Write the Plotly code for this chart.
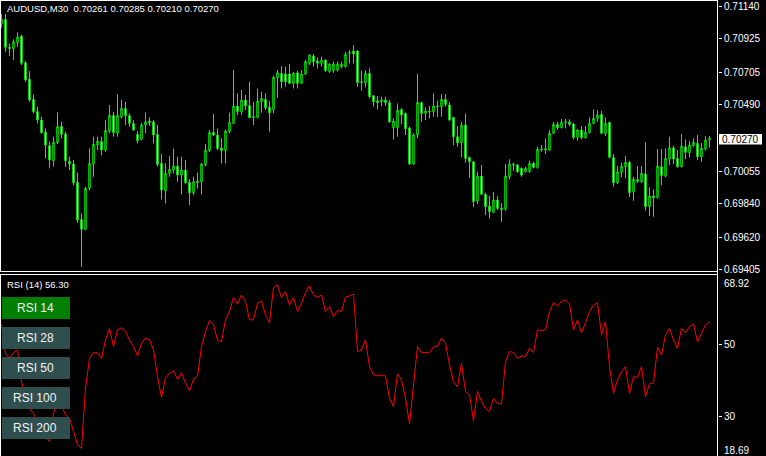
import plotly.graph_objects as go

# ---------------- data ----------------
open_ = [0.71021,0.71052,0.70859,0.70861,0.70899,0.70942,0.70767,0.70658,0.70526,0.70447,
         0.70390,0.70312,0.70222,0.70123,0.70241,0.70349,0.70298,0.70119,0.70101,0.69981,
         0.69737,0.69672,0.69941,0.70101,0.70226,0.70250,0.70193,0.70318,0.70421,0.70303,
         0.70412,0.70467,0.70419,0.70368,0.70296,0.70263,0.70358,0.70384,0.70379,0.70296,
         0.70106,0.69926,0.70040,0.70062,0.70088,0.70029,0.70062,0.69981,0.69913,0.69978,
         0.69985,0.70097,0.70189,0.70309,0.70292,0.70206,0.70189,0.70314,0.70368,0.70482,
         0.70445,0.70522,0.70485,0.70406,0.70408,0.70511,0.70526,0.70474,0.70460,0.70669,
         0.70697,0.70693,0.70693,0.70631,0.70701,0.70631,0.70693,0.70763,0.70811,0.70778,
         0.70763,0.70785,0.70708,0.70715,0.70719,0.70741,0.70741,0.70829,0.70844,0.70844,
         0.70636,0.70636,0.70697,0.70550,0.70517,0.70511,0.70522,0.70506,0.70340,0.70340,
         0.70460,0.70434,0.70338,0.70101,0.70292,0.70506,0.70434,0.70450,0.70445,0.70478,
         0.70478,0.70526,0.70489,0.70408,0.70281,0.70241,0.70358,0.70145,0.70117,0.69858,
         0.70022,0.69902,0.69825,0.69784,0.69865,0.69810,0.69803,0.70018,0.70093,0.70095,
         0.70073,0.70051,0.70051,0.70106,0.70079,0.70193,0.70193,0.70193,0.70303,0.70362,
         0.70340,0.70373,0.70379,0.70364,0.70276,0.70325,0.70274,0.70307,0.70368,0.70401,
         0.70428,0.70303,0.70375,0.70145,0.69978,0.70046,0.70084,0.70112,0.69919,0.69985,
         0.69985,0.70036,0.69821,0.69891,0.69880,0.70084,0.70022,0.70134,0.70208,0.70138,
         0.70084,0.70215,0.70176,0.70222,0.70237,0.70149,0.70200,0.70261]
high = [0.71087,0.71087,0.70894,0.70921,0.70967,0.70951,0.70778,0.70712,0.70559,0.70478,
        0.70412,0.70336,0.70248,0.70281,0.70441,0.70379,0.70314,0.70149,0.70128,0.70044,
        0.69777,0.69952,0.70204,0.70281,0.70281,0.70281,0.70390,0.70489,0.70445,0.70559,
        0.70522,0.70511,0.70434,0.70390,0.70318,0.70373,0.70441,0.70408,0.70390,0.70358,
        0.70167,0.70106,0.70154,0.70204,0.70149,0.70149,0.70128,0.70003,0.70018,0.70046,
        0.70110,0.70233,0.70325,0.70430,0.70336,0.70270,0.70329,0.70439,0.70719,0.70566,
        0.70588,0.70555,0.70642,0.70511,0.70598,0.70577,0.70566,0.70515,0.70680,0.70719,
        0.70745,0.70741,0.70758,0.70708,0.70715,0.70719,0.70785,0.70820,0.70824,0.70802,
        0.70807,0.70789,0.70763,0.70774,0.70774,0.70774,0.70839,0.70850,0.70883,0.70850,
        0.70715,0.70719,0.70730,0.70555,0.70548,0.70544,0.70544,0.70522,0.70401,0.70500,
        0.70467,0.70439,0.70347,0.70303,0.70693,0.70511,0.70474,0.70482,0.70566,0.70517,
        0.70561,0.70561,0.70511,0.70412,0.70351,0.70379,0.70434,0.70149,0.70119,0.70051,
        0.70095,0.69913,0.69891,0.69919,0.69891,0.69843,0.70101,0.70132,0.70110,0.70101,
        0.70079,0.70084,0.70123,0.70117,0.70215,0.70226,0.70270,0.70325,0.70379,0.70379,
        0.70397,0.70397,0.70395,0.70373,0.70329,0.70351,0.70351,0.70408,0.70460,0.70456,
        0.70450,0.70408,0.70379,0.70167,0.70090,0.70110,0.70154,0.70121,0.70018,0.70088,
        0.70088,0.70244,0.69948,0.69935,0.70200,0.70200,0.70204,0.70281,0.70222,0.70193,
        0.70298,0.70263,0.70252,0.70270,0.70292,0.70241,0.70285,0.70285]
low = [0.70999,0.70839,0.70811,0.70785,0.70872,0.70752,0.70642,0.70511,0.70434,0.70368,
       0.70303,0.70138,0.70073,0.70084,0.70233,0.70270,0.70084,0.70062,0.69963,0.69716,
       0.69426,0.69667,0.69930,0.70018,0.70193,0.70160,0.70182,0.70303,0.70281,0.70281,
       0.70401,0.70358,0.70347,0.70320,0.70237,0.70259,0.70303,0.70351,0.70237,0.70084,
       0.69869,0.69843,0.70018,0.70040,0.69985,0.69902,0.69974,0.69832,0.69897,0.69941,
       0.69902,0.70088,0.70182,0.70285,0.70193,0.70106,0.70106,0.70303,0.70364,0.70423,
       0.70423,0.70456,0.70401,0.70358,0.70401,0.70439,0.70456,0.70314,0.70434,0.70537,
       0.70598,0.70609,0.70627,0.70598,0.70598,0.70627,0.70686,0.70752,0.70741,0.70730,
       0.70741,0.70708,0.70701,0.70701,0.70708,0.70730,0.70736,0.70763,0.70763,0.70609,
       0.70583,0.70605,0.70533,0.70478,0.70460,0.70482,0.70482,0.70373,0.70263,0.70281,
       0.70364,0.70292,0.70095,0.70095,0.70270,0.70379,0.70390,0.70401,0.70412,0.70412,
       0.70412,0.70478,0.70386,0.70226,0.70215,0.70145,0.70110,0.70011,0.69821,0.69838,
       0.69897,0.69766,0.69744,0.69777,0.69799,0.69722,0.69794,0.70000,0.70057,0.70044,
       0.70018,0.70044,0.70044,0.70073,0.70071,0.70182,0.70167,0.70189,0.70298,0.70325,
       0.70336,0.70336,0.70351,0.70263,0.70255,0.70263,0.70270,0.70303,0.70364,0.70379,
       0.70298,0.70285,0.70138,0.69952,0.69970,0.70014,0.70007,0.69886,0.69860,0.69978,
       0.69978,0.69795,0.69760,0.69755,0.69876,0.69963,0.70014,0.70095,0.70101,0.70077,
       0.70079,0.70134,0.70145,0.70215,0.70128,0.70117,0.70189,0.70210]
close = [0.71052,0.70868,0.70868,0.70905,0.70936,0.70763,0.70653,0.70522,0.70445,0.70390,
         0.70307,0.70226,0.70128,0.70244,0.70347,0.70296,0.70123,0.70101,0.69978,0.69733,
         0.69672,0.69941,0.70106,0.70230,0.70250,0.70193,0.70322,0.70421,0.70307,0.70419,
         0.70467,0.70419,0.70368,0.70325,0.70255,0.70358,0.70379,0.70373,0.70292,0.70099,
         0.69930,0.70040,0.70066,0.70088,0.70029,0.70062,0.69978,0.69913,0.69985,0.69989,
         0.70101,0.70193,0.70309,0.70292,0.70204,0.70189,0.70318,0.70375,0.70482,0.70445,
         0.70522,0.70482,0.70406,0.70412,0.70515,0.70533,0.70471,0.70439,0.70671,0.70701,
         0.70642,0.70642,0.70631,0.70697,0.70631,0.70693,0.70774,0.70818,0.70774,0.70763,
         0.70785,0.70715,0.70758,0.70758,0.70758,0.70758,0.70822,0.70833,0.70824,0.70636,
         0.70642,0.70697,0.70544,0.70511,0.70504,0.70522,0.70504,0.70379,0.70384,0.70456,
         0.70423,0.70333,0.70101,0.70292,0.70506,0.70434,0.70450,0.70445,0.70482,0.70482,
         0.70526,0.70493,0.70390,0.70281,0.70241,0.70358,0.70138,0.70117,0.69854,0.70022,
         0.69902,0.69821,0.69788,0.69865,0.69810,0.69803,0.70022,0.70101,0.70101,0.70051,
         0.70029,0.70073,0.70106,0.70079,0.70198,0.70198,0.70202,0.70303,0.70362,0.70340,
         0.70375,0.70379,0.70362,0.70276,0.70325,0.70274,0.70309,0.70368,0.70401,0.70423,
         0.70303,0.70368,0.70145,0.69978,0.70051,0.70088,0.70112,0.69913,0.70000,0.70000,
         0.70040,0.69821,0.69891,0.69880,0.70088,0.70025,0.70138,0.70208,0.70134,0.70084,
         0.70219,0.70178,0.70226,0.70244,0.70149,0.70204,0.70259,0.70270]
rsi = [55.5,47.5,46.1,47.7,48.4,39.6,35.5,32.2,30.8,28.1,
       26.2,24.4,23.0,30.8,34.5,33.1,30.4,29.4,25.8,22.2,
       21.0,37.8,46.1,47.7,47.7,46.1,51.2,54.4,49.4,54.0,
       54.6,53.5,51.2,49.4,46.8,50.3,51.7,51.2,48.4,41.0,
       35.3,40.6,41.9,42.6,40.3,42.1,39.2,37.1,40.3,41.2,
       49.4,53.5,56.6,55.4,51.2,50.7,56.8,59.1,63.0,61.2,
       63.7,61.9,56.8,56.8,61.4,62.0,58.1,56.0,65.8,66.5,
       63.0,64.6,60.9,63.0,59.1,61.4,64.4,66.2,63.7,63.0,
       63.7,59.1,60.5,57.7,59.4,59.1,63.1,63.4,64.0,48.0,
       48.4,51.2,43.8,41.5,41.2,41.5,41.2,35.0,32.7,41.8,
       40.1,35.0,27.9,37.8,49.4,47.7,47.7,47.7,49.2,49.5,
       51.7,50.3,44.3,39.6,38.2,44.7,36.9,35.9,28.8,36.9,
       34.1,32.2,31.3,35.0,33.6,33.4,45.2,48.0,47.7,46.1,
       46.8,46.6,48.9,47.7,54.0,53.8,54.0,59.1,61.6,60.6,
       61.9,62.3,61.2,54.0,56.8,53.2,56.0,59.1,60.9,61.6,
       52.6,56.3,43.8,36.4,40.1,42.4,43.8,36.4,41.0,40.8,
       43.8,35.5,39.0,39.2,49.2,47.0,52.6,54.4,51.2,48.9,
       54.4,53.2,54.9,55.6,50.7,53.1,55.4,56.3]

price_ticks = [0.71140, 0.70925, 0.70705, 0.70490, 0.70055, 0.69840, 0.69620, 0.69405]
price_tick_text = ["0.71140", "0.70925", "0.70705", "0.70490", "0.70055", "0.69840", "0.69620", "0.69405"]
rsi_ticks = [50, 30]
rsi_tick_text = ["50", "30"]
rsi_max_label, rsi_min_label = "68.92", "18.69"
title_text = "AUDUSD,M30\u00a0\u00a00.70261 0.70285 0.70210 0.70270"
rsi_title = "RSI (14) 56.30"
current_price = "0.70270"
buttons = ["RSI 14", "RSI 28", "RSI 50", "RSI 100", "RSI 200"]

# ---------------- layout geometry ----------------
W, H = 766, 456
PW = 718          # plot width in px (right margin holds the scale)
FONT = "Liberation Sans, Arial, sans-serif"

def fx(p):   # pixel x -> paper
    return p / PW

def fy(p):   # pixel y -> paper
    return 1 - p / H

idx = list(range(len(close)))
x0 = -1.5 / 4
x_range = [x0, x0 + PW / 4]

fig = go.Figure()
fig.add_trace(go.Candlestick(
    x=idx, open=open_, high=high, low=low, close=close,
    increasing=dict(line=dict(color="#00FF00", width=1), fillcolor="#000000"),
    decreasing=dict(line=dict(color="#00FF00", width=1), fillcolor="#FFFFFF"),
    whiskerwidth=0, xaxis="x", yaxis="y", hoverinfo="skip", showlegend=False))
fig.add_trace(go.Scatter(
    x=idx, y=rsi, mode="lines", line=dict(color="#FF0000", width=1),
    xaxis="x", yaxis="y2", hoverinfo="skip", showlegend=False))

main_top = 0.711794
px_per = 6.572e-5
main_bottom_px = 272
rsi_top_px = 275

shapes = []
line_style = dict(color="#FFFFFF", width=1)
# window frames
shapes.append(dict(type="line", xref="paper", yref="paper", x0=0, x1=fx(718), y0=fy(0.5), y1=fy(0.5), line=line_style))
shapes.append(dict(type="line", xref="paper", yref="paper", x0=0, x1=fx(718), y0=fy(271.5), y1=fy(271.5), line=line_style))
shapes.append(dict(type="line", xref="paper", yref="paper", x0=0, x1=fx(718), y0=fy(274.5), y1=fy(274.5), line=line_style))
shapes.append(dict(type="line", xref="paper", yref="paper", x0=fx(0.5), x1=fx(0.5), y0=fy(0), y1=fy(271.5), line=line_style))
shapes.append(dict(type="line", xref="paper", yref="paper", x0=fx(0.5), x1=fx(0.5), y0=fy(274.5), y1=fy(456), line=line_style))
shapes.append(dict(type="line", xref="paper", yref="paper", x0=fx(717.5), x1=fx(717.5), y0=fy(0), y1=fy(456), line=line_style))
# current price box
shapes.append(dict(type="rect", xref="paper", yref="paper", x0=fx(719), x1=fx(762), y0=fy(134), y1=fy(144.5),
                   fillcolor="#FFFFFF", line=dict(width=0), layer="above"))

annotations = [
    dict(text=title_text, xref="paper", yref="paper", x=fx(5), y=fy(8.5), xanchor="left", yanchor="middle",
         showarrow=False, font=dict(family=FONT, size=9.5, color="#FFFFFF")),
    dict(text=rsi_title, xref="paper", yref="paper", x=fx(5), y=fy(284.5), xanchor="left", yanchor="middle",
         showarrow=False, font=dict(family=FONT, size=9.5, color="#FFFFFF")),
    dict(text=current_price, xref="paper", yref="paper", x=fx(740.5), y=fy(139.3), xanchor="center", yanchor="middle",
         showarrow=False, font=dict(family=FONT, size=10, color="#000000")),
    dict(text=rsi_max_label, xref="paper", yref="paper", x=fx(722), y=fy(283.5), xanchor="left", yanchor="middle",
         showarrow=False, font=dict(family=FONT, size=10, color="#FFFFFF")),
    dict(text=rsi_min_label, xref="paper", yref="paper", x=fx(722), y=fy(450.5), xanchor="left", yanchor="middle",
         showarrow=False, font=dict(family=FONT, size=10, color="#FFFFFF")),
]

for i, label in enumerate(buttons):
    top = 297 + 30 * i
    color = "#008000" if i == 0 else "#2F4F4F"
    shapes.append(dict(type="rect", xref="paper", yref="paper", x0=fx(2), x1=fx(70), y0=fy(top), y1=fy(top + 22),
                       fillcolor=color, line=dict(width=0), layer="above"))
    annotations.append(dict(text=label, xref="paper", yref="paper", x=fx(35), y=fy(top + 11), xanchor="center",
                            yanchor="middle", showarrow=False, font=dict(family=FONT, size=12, color="#F2F2F2")))

fig.update_layout(
    width=W, height=H, margin=dict(l=0, r=W - PW, t=0, b=0, pad=0, autoexpand=False),
    paper_bgcolor="#000000", plot_bgcolor="#000000",
    boxgap=0.5, showlegend=False, hovermode=False,
    xaxis=dict(range=x_range, visible=False, showgrid=False, zeroline=False,
               rangeslider=dict(visible=False), fixedrange=True, automargin=False),
    yaxis=dict(domain=[fy(main_bottom_px), 1],
               range=[main_top - main_bottom_px * px_per, main_top],
               side="right", anchor="x", showgrid=False, zeroline=False, showline=False, automargin=False,
               tickvals=price_ticks, ticktext=price_tick_text,
               ticks="outside", ticklen=3, tickwidth=1, tickcolor="#FFFFFF",
               tickfont=dict(family=FONT, size=10, color="#FFFFFF")),
    yaxis2=dict(domain=[0, fy(rsi_top_px)],
                range=[50 + (344.3 - 456) / 3.6, 50 + (344.3 - rsi_top_px) / 3.6],
                side="right", anchor="x", showgrid=False, zeroline=False, showline=False, automargin=False,
                tickvals=rsi_ticks, ticktext=rsi_tick_text,
                ticks="outside", ticklen=3, tickwidth=1, tickcolor="#FFFFFF",
                tickfont=dict(family=FONT, size=10, color="#FFFFFF")),
    shapes=shapes, annotations=annotations,
)

fig.write_html("out.html", config={"displayModeBar": False, "staticPlot": True},
               post_script="document.body.style.margin='0';document.body.style.background='#000';")
